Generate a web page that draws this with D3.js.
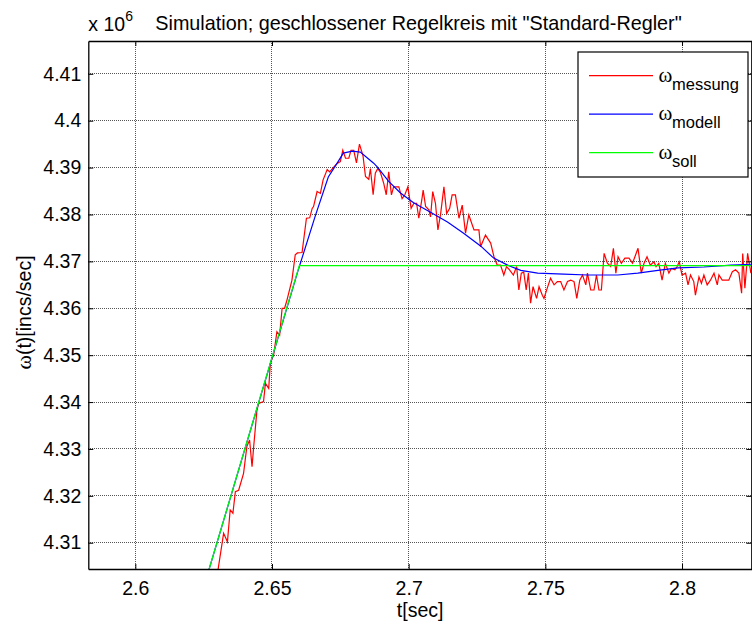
<!DOCTYPE html>
<html>
<head>
<meta charset="utf-8">
<script src="https://cdn.jsdelivr.net/npm/d3@7"></script>
<style>
  body { margin: 0; background: #fff; }
  svg { display: block; font-family: "Liberation Sans", Arial, sans-serif; }
</style>
</head>
<body>
<div id="chart"></div>
<script>
// axis limits and ticks (omega in units of 1e6 incs/sec)
const xLimits = [2.5828, 2.8256];
const yLimits = [4.3044, 4.4170];
const xTicks = [2.6, 2.65, 2.7, 2.75, 2.8];
const xTickLabels = ["2.6", "2.65", "2.7", "2.75", "2.8"];
const yTicks = [4.31, 4.32, 4.33, 4.34, 4.35, 4.36, 4.37, 4.38, 4.39, 4.40, 4.41];
const yTickLabels = ["4.31", "4.32", "4.33", "4.34", "4.35", "4.36", "4.37", "4.38", "4.39", "4.4", "4.41"];

// omega_soll: ramp then constant
const sollT = [2.6265, 2.6600, 2.8300];
const sollW = [4.3034, 4.3691, 4.3691];

// omega_modell
const modellT = [2.6265, 2.6500, 2.6593, 2.6659, 2.6706, 2.6739, 2.6761, 2.6794, 2.6823, 2.6871,
  2.6886, 2.6926, 2.6970, 2.7018, 2.7080, 2.7142, 2.7201, 2.7263, 2.7311, 2.7362,
  2.7410, 2.7472, 2.7567, 2.7655, 2.7765, 2.7838, 2.7912, 2.7985, 2.8080, 2.8179, 2.8260];
const modellW = [4.3034, 4.3494, 4.3676, 4.3798, 4.3880, 4.3910, 4.3931, 4.3935, 4.3933, 4.3910,
  4.3901, 4.3871, 4.3846, 4.3825, 4.3805, 4.3784, 4.3760, 4.3733, 4.3707, 4.3692,
  4.3681, 4.3675, 4.3673, 4.3671, 4.3671, 4.3675, 4.3681, 4.3686, 4.3688, 4.3692, 4.3694];

// omega_messung
const messungT = [2.6298, 2.6323, 2.6337, 2.6347, 2.6357, 2.6366, 2.6378, 2.6396, 2.6408, 2.6418,
  2.6427, 2.6433, 2.6445, 2.6451, 2.6469, 2.6476, 2.6488, 2.6494, 2.6506, 2.6518,
  2.6528, 2.6537, 2.6546, 2.6555, 2.6573, 2.6585, 2.6593, 2.6610, 2.6626, 2.6638,
  2.6647, 2.6652, 2.6665, 2.6677, 2.6687, 2.6702, 2.6711, 2.6726, 2.6738, 2.6750,
  2.6759, 2.6769, 2.6781, 2.6789, 2.6799, 2.6809, 2.6820, 2.6833, 2.6842, 2.6854,
  2.6860, 2.6870, 2.6878, 2.6887, 2.6897, 2.6909, 2.6918, 2.6927, 2.6937, 2.6945,
  2.6964, 2.6976, 2.6986, 2.6997, 2.7009, 2.7019, 2.7029, 2.7037, 2.7048, 2.7053,
  2.7062, 2.7074, 2.7080, 2.7088, 2.7098, 2.7107, 2.7117, 2.7129, 2.7139, 2.7150,
  2.7159, 2.7171, 2.7184, 2.7196, 2.7208, 2.7220, 2.7239, 2.7257, 2.7263, 2.7281,
  2.7300, 2.7312, 2.7324, 2.7336, 2.7348, 2.7358, 2.7369, 2.7383, 2.7395, 2.7403,
  2.7412, 2.7421, 2.7430, 2.7438, 2.7446, 2.7455, 2.7468, 2.7477, 2.7489, 2.7495,
  2.7507, 2.7519, 2.7532, 2.7544, 2.7556, 2.7568, 2.7581, 2.7593, 2.7605, 2.7615,
  2.7626, 2.7636, 2.7648, 2.7654, 2.7666, 2.7678, 2.7687, 2.7696, 2.7705, 2.7715,
  2.7727, 2.7739, 2.7749, 2.7758, 2.7766, 2.7778, 2.7791, 2.7806, 2.7819, 2.7839,
  2.7851, 2.7861, 2.7872, 2.7884, 2.7897, 2.7905, 2.7915, 2.7927, 2.7939, 2.7952,
  2.7961, 2.7974, 2.7982, 2.7990, 2.8000, 2.8013, 2.8022, 2.8031, 2.8043, 2.8049,
  2.8062, 2.8071, 2.8080, 2.8092, 2.8104, 2.8117, 2.8129, 2.8135, 2.8147, 2.8171,
  2.8184, 2.8196, 2.8208, 2.8218, 2.8222, 2.8230, 2.8240, 2.8252, 2.8263];
const messungW = [4.3025, 4.3120, 4.3102, 4.3170, 4.3163, 4.3209, 4.3212, 4.3248, 4.3305, 4.3319,
  4.3262, 4.3305, 4.3383, 4.3397, 4.3401, 4.3440, 4.3429, 4.3483, 4.3500, 4.3550,
  4.3543, 4.3600, 4.3600, 4.3618, 4.3660, 4.3714, 4.3718, 4.3719, 4.3792, 4.3793,
  4.3813, 4.3817, 4.3849, 4.3845, 4.3874, 4.3896, 4.3891, 4.3901, 4.3909, 4.3913,
  4.3937, 4.3920, 4.3920, 4.3937, 4.3937, 4.3910, 4.3950, 4.3925, 4.3881, 4.3875,
  4.3898, 4.3842, 4.3888, 4.3898, 4.3889, 4.3866, 4.3842, 4.3891, 4.3842, 4.3859,
  4.3859, 4.3834, 4.3842, 4.3859, 4.3813, 4.3824, 4.3824, 4.3792, 4.3831, 4.3852,
  4.3817, 4.3810, 4.3795, 4.3849, 4.3824, 4.3767, 4.3802, 4.3859, 4.3802, 4.3813,
  4.3842, 4.3842, 4.3792, 4.3820, 4.3760, 4.3799, 4.3767, 4.3767, 4.3731, 4.3756,
  4.3739, 4.3710, 4.3692, 4.3692, 4.3671, 4.3689, 4.3682, 4.3671, 4.3689, 4.3639,
  4.3675, 4.3677, 4.3639, 4.3675, 4.3611, 4.3646, 4.3621, 4.3646, 4.3628, 4.3621,
  4.3643, 4.3664, 4.3650, 4.3657, 4.3657, 4.3639, 4.3657, 4.3660, 4.3657, 4.3621,
  4.3660, 4.3671, 4.3650, 4.3675, 4.3639, 4.3639, 4.3671, 4.3639, 4.3639, 4.3717,
  4.3696, 4.3689, 4.3728, 4.3675, 4.3710, 4.3696, 4.3707, 4.3707, 4.3696, 4.3728,
  4.3675, 4.3696, 4.3710, 4.3692, 4.3699, 4.3689, 4.3696, 4.3660, 4.3696, 4.3675,
  4.3685, 4.3682, 4.3689, 4.3699, 4.3671, 4.3675, 4.3650, 4.3671, 4.3657, 4.3628,
  4.3667, 4.3653, 4.3671, 4.3650, 4.3660, 4.3675, 4.3650, 4.3671, 4.3660, 4.3660,
  4.3678, 4.3682, 4.3675, 4.3632, 4.3717, 4.3643, 4.3717, 4.3675, 4.3696];

const seriesNames = ["messung", "modell", "soll"];
const seriesColors = ["#ff0000", "#0000ff", "#00ff00"];

const width = 752, height = 625;
const plot = { left: 88.3, right: 752, top: 41, bottom: 569 };
const fontSize = 19.5;

const svg = d3.select("#chart").append("svg")
    .attr("width", width)
    .attr("height", height);

const xScale = d3.scaleLinear().domain(xLimits).range([plot.left, plot.right]);
const yScale = d3.scaleLinear().domain(yLimits).range([plot.bottom, plot.top]);

svg.append("defs").append("clipPath")
    .attr("id", "plotClip")
    .append("rect")
    .attr("x", plot.left)
    .attr("y", plot.top)
    .attr("width", plot.right - plot.left)
    .attr("height", plot.bottom - plot.top);

// grid
const grid = svg.append("g")
    .attr("stroke", "#555")
    .attr("stroke-width", 1)
    .attr("stroke-dasharray", "1,1")
    .attr("shape-rendering", "crispEdges");

grid.selectAll(".gx").data(xTicks).enter().append("line")
    .attr("x1", (d) => xScale(d)).attr("x2", (d) => xScale(d))
    .attr("y1", plot.top).attr("y2", plot.bottom);

grid.selectAll(".gy").data(yTicks).enter().append("line")
    .attr("x1", plot.left).attr("x2", plot.right)
    .attr("y1", (d) => yScale(d)).attr("y2", (d) => yScale(d));

// data lines
const line = d3.line()
    .x((d) => xScale(d[0]))
    .y((d) => yScale(d[1]));

const lines = svg.append("g").attr("clip-path", "url(#plotClip)");
const allSeries = [
    d3.zip(messungT, messungW),
    d3.zip(modellT, modellW),
    d3.zip(sollT, sollW)
];
allSeries.forEach((data, i) => {
    lines.append("path")
        .datum(data)
        .attr("fill", "none")
        .attr("stroke", seriesColors[i])
        .attr("stroke-width", 1.2)
        .attr("stroke-linejoin", "miter")
        .attr("d", line);
});

// axes, MATLAB style ticks pointing inward
function styleAxis(g) {
    g.selectAll(".domain").attr("stroke", "#000").attr("stroke-width", 1.3);
    g.selectAll(".tick line").attr("stroke", "#000").attr("stroke-width", 1);
    g.selectAll(".tick text")
        .attr("fill", "#000")
        .style("font-size", fontSize + "px")
        .style("font-family", "'Liberation Sans', Arial, sans-serif");
}

svg.append("g")
    .attr("transform", `translate(0, ${plot.bottom})`)
    .call(d3.axisBottom(xScale).tickValues(xTicks)
        .tickFormat((d, i) => xTickLabels[i])
        .tickSizeInner(-5).tickSizeOuter(0).tickPadding(12))
    .call(styleAxis);

svg.append("g")
    .attr("transform", `translate(0, ${plot.top})`)
    .call(d3.axisTop(xScale).tickValues(xTicks).tickFormat("")
        .tickSizeInner(-5).tickSizeOuter(0))
    .call(styleAxis);

svg.append("g")
    .attr("transform", `translate(${plot.left}, 0)`)
    .call(d3.axisLeft(yScale).tickValues(yTicks)
        .tickFormat((d, i) => yTickLabels[i])
        .tickSizeInner(-5).tickSizeOuter(0).tickPadding(7))
    .call(styleAxis);

svg.append("g")
    .attr("transform", `translate(${plot.right - 0.7}, 0)`)
    .call(d3.axisRight(yScale).tickValues(yTicks).tickFormat("")
        .tickSizeInner(-5).tickSizeOuter(0))
    .call(styleAxis);

// exponent label
const expo = svg.append("text")
    .attr("x", plot.left)
    .attr("y", 31)
    .style("font-size", fontSize + "px");
expo.append("tspan").text("x 10");
expo.append("tspan").attr("dy", -10).style("font-size", "14px").text("6");

// title
svg.append("text")
    .attr("x", 418.5)
    .attr("y", 30)
    .attr("text-anchor", "middle")
    .style("font-size", "19.8px")
    .text("Simulation; geschlossener Regelkreis mit \"Standard-Regler\"");

// x label
svg.append("text")
    .attr("x", (plot.left + plot.right) / 2)
    .attr("y", 617)
    .attr("text-anchor", "middle")
    .style("font-size", fontSize + "px")
    .text("t[sec]");

// y label
const ylab = svg.append("text")
    .attr("transform", "translate(30.5, 312.5) rotate(-90)")
    .attr("text-anchor", "middle")
    .style("font-size", fontSize + "px");
ylab.append("tspan").style("font-family", "'Liberation Serif', serif").style("font-size", "22px").text("ω");
ylab.append("tspan").text("(t)[incs/sec]");

// legend
const legend = svg.append("g");
legend.append("rect")
    .attr("x", 578).attr("y", 52)
    .attr("width", 170).attr("height", 125)
    .attr("fill", "#fff")
    .attr("stroke", "#000")
    .attr("stroke-width", 1.2);

const legendY = d3.scalePoint().domain(seriesNames).range([75.7, 152.7]);

seriesNames.forEach((name, i) => {
    const ly = legendY(name);
    legend.append("line")
        .attr("x1", 589).attr("x2", 653)
        .attr("y1", ly).attr("y2", ly)
        .attr("stroke", seriesColors[i])
        .attr("stroke-width", 1.2);
    legend.append("text")
        .attr("x", 658.5).attr("y", ly + 6)
        .style("font-family", "'Liberation Serif', serif")
        .style("font-size", "21px")
        .text("ω");
    legend.append("text")
        .attr("x", 672).attr("y", ly + 14)
        .style("font-size", "16.5px")
        .text(name);
});
</script>
</body>
</html>
